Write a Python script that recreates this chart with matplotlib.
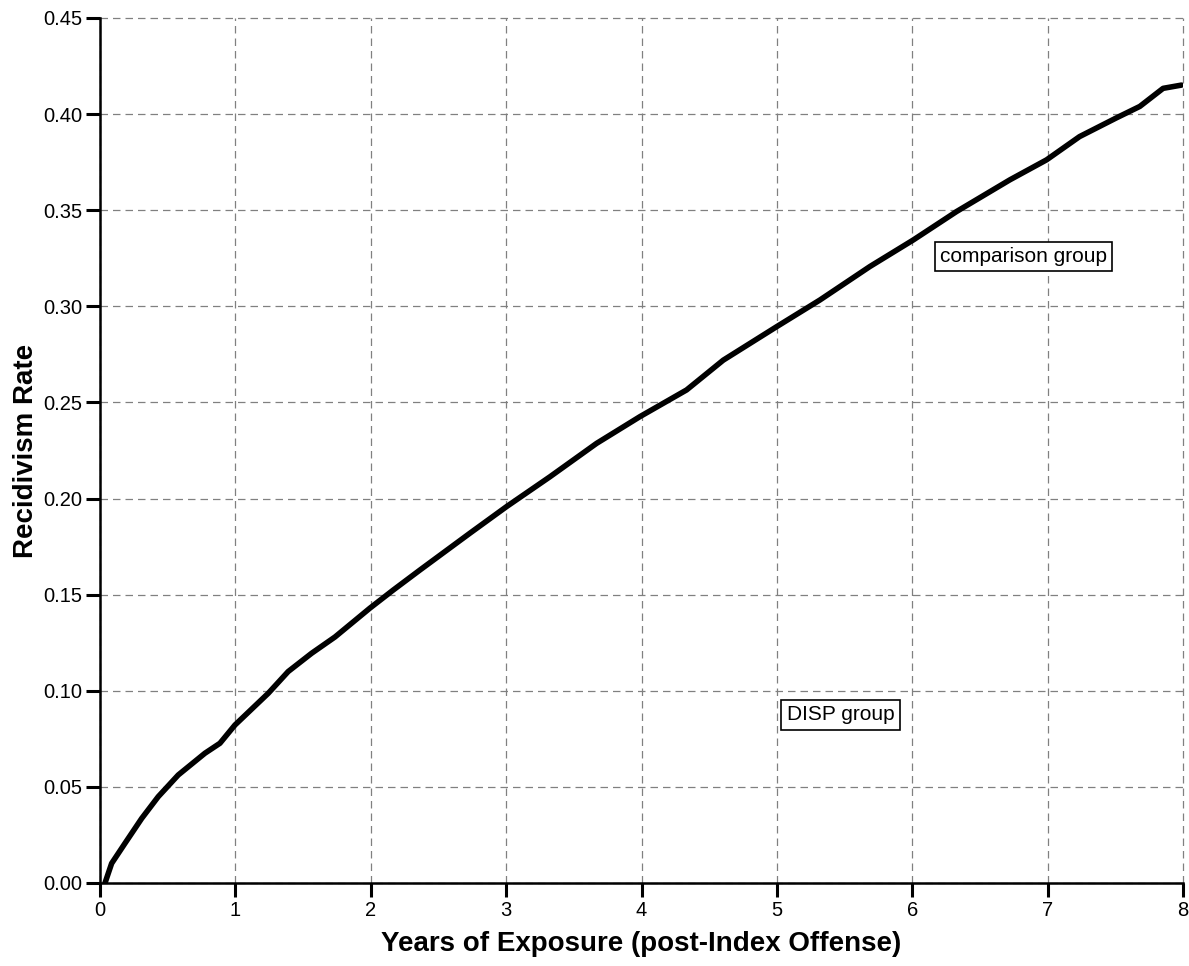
import matplotlib
matplotlib.use("Agg")
import matplotlib.pyplot as plt

plt.rcParams['font.family'] = ['Liberation Sans', 'DejaVu Sans']

# recidivism curve (years, rate)
years = [0.037, 0.086, 0.185, 0.308, 0.43, 0.578, 0.775, 0.886, 0.997, 1.243,
         1.39, 1.563, 1.736, 1.994, 2.166, 2.363, 2.733, 3.003, 3.323, 3.668,
         3.988, 4.333, 4.604, 4.998, 5.318, 5.687, 6.007, 6.327, 6.721, 6.992,
         7.236, 7.507, 7.681, 7.853, 7.989]
rate = [0.0, 0.0102, 0.0207, 0.0336, 0.0449, 0.0562, 0.0675, 0.0727, 0.0822, 0.0987,
        0.110, 0.1195, 0.128, 0.143, 0.1524, 0.1628, 0.182, 0.1958, 0.2113, 0.2287,
        0.2426, 0.2565, 0.272, 0.2894, 0.3033, 0.3207, 0.3345, 0.3493, 0.3658, 0.3762,
        0.3883, 0.398, 0.404, 0.4134, 0.4151]

x_ticks = [0, 1, 2, 3, 4, 5, 6, 7, 8]
y_ticks = [0.00, 0.05, 0.10, 0.15, 0.20, 0.25, 0.30, 0.35, 0.40, 0.45]

labels = ["comparison group", "DISP group"]
label_pos = [(6.82, 0.326), (5.47, 0.0874)]

fig = plt.figure(figsize=(11.89, 9.66), dpi=100)
ax = fig.add_axes([100/1189, 83/966, 1083/1189, 865/966])

ax.plot(years, rate, color='black', linewidth=4.0, solid_capstyle='round',
        solid_joinstyle='round', zorder=3)

ax.set_xlim(0, 8)
ax.set_ylim(0, 0.45)
ax.set_xticks(x_ticks)
ax.set_yticks(y_ticks)
ax.set_xticklabels([str(t) for t in x_ticks])
ax.set_yticklabels(["{:.2f}".format(t) for t in y_ticks])

ax.grid(True, color='#808080', linestyle=(0, (6, 4)), linewidth=0.9)
for gl in ax.get_xgridlines() + ax.get_ygridlines():
    gl.set_clip_on(False)

for s in ['top', 'right']:
    ax.spines[s].set_visible(False)
for s in ['left', 'bottom']:
    ax.spines[s].set_linewidth(1.8)
    ax.spines[s].set_zorder(4)

ax.tick_params(axis='both', direction='out', length=10, width=2.2,
               labelsize=14.5, pad=3)

ax.set_xlabel("Years of Exposure (post-Index Offense)", fontsize=20,
              fontweight='bold', labelpad=8)
ax.set_ylabel("Recidivism Rate", fontsize=20, fontweight='bold', labelpad=3)

for txt, (lx, ly) in zip(labels, label_pos):
    ax.text(lx, ly, txt, fontsize=15, ha='center', va='center', zorder=5,
            bbox=dict(boxstyle='square,pad=0.25', facecolor='white',
                      edgecolor='black', linewidth=1.2))

fig.savefig("out.png", dpi=100)
